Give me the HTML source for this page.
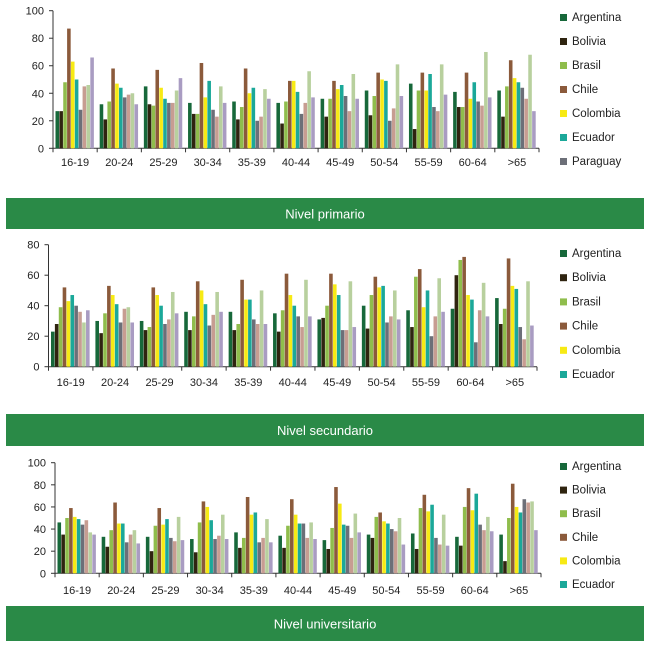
<!DOCTYPE html>
<html><head><meta charset="utf-8"><style>
body{margin:0;background:#fff;width:650px;height:650px;overflow:hidden;font-family:"Liberation Sans",sans-serif}
svg{display:block}
</style></head><body>
<svg id="c" width="650" height="650" xmlns="http://www.w3.org/2000/svg"></svg>
<script>
const categories=["16-19","20-24","25-29","30-34","35-39","40-44","45-49","50-54","55-59","60-64",">65"];
const seriesNames=["Argentina","Bolivia","Brasil","Chile","Colombia","Ecuador","Paraguay","Peru","Uruguay","Venezuela"];
const seriesColors=["#17683a","#2f2410","#8fbd4c","#8b5a3b","#f7ea14","#1ba899","#6c6f78","#c79d92","#b8d09e","#a99cc2"];
// primario: values per series across categories
const primArgentina=[27,32,45,33,34,33,36,42,47,41,42];
const primBolivia=[27,21,32,25,21,18,23,24,14,30,23];
const primBrasil=[48,34,31,25,30,34,36,38,42,30,45];
const primChile=[87,58,57,62,58,49,49,55,55,55,64];
const primColombia=[63,47,44,37,40,49,43,50,42,36,51];
const primEcuador=[50,44,36,49,44,41,46,49,54,48,48];
const primParaguay=[28,37,33,28,20,25,38,20,30,34,44];
const primPeru=[45,39,33,23,23,33,27,29,27,31,36];
const primUruguay=[46,40,42,45,43,56,54,61,61,70,68];
const primVenezuela=[66,32,51,33,36,37,36,38,39,37,27];
// secundario
const secArgentina=[23,30,30,36,36,35,31,40,37,38,45];
const secBolivia=[28,22,24,24,24,23,32,25,26,60,28];
const secBrasil=[39,35,26,33,28,37,40,47,59,70,38];
const secChile=[52,53,52,56,57,61,61,59,64,72,71];
const secColombia=[43,47,47,50,44,47,54,52,39,47,53];
const secEcuador=[47,41,40,41,44,40,47,53,50,44,51];
const secParaguay=[40,29,28,27,31,33,24,29,20,16,26];
const secPeru=[36,38,31,34,28,26,24,33,33,37,18];
const secUruguay=[29,39,49,49,50,57,56,50,58,55,56];
const secVenezuela=[37,29,35,36,28,33,26,31,36,33,27];
// universitario
const uniArgentina=[46,33,33,31,37,34,30,35,36,33,35];
const uniBolivia=[35,24,20,19,23,23,22,32,22,25,11];
const uniBrasil=[50,39,43,46,32,43,41,51,59,60,50];
const uniChile=[59,64,59,65,69,67,78,55,71,77,81];
const uniColombia=[51,45,44,60,53,53,63,47,56,57,60];
const uniEcuador=[49,45,49,48,55,45,44,45,62,72,55];
const uniParaguay=[44,28,32,31,28,45,43,40,32,44,67];
const uniPeru=[48,35,29,34,32,32,32,38,26,39,64];
const uniUruguay=[37,39,51,53,49,46,54,50,53,51,65];
const uniVenezuela=[35,27,30,31,28,31,37,26,25,38,39];
const primTicks=[0,20,40,60,80,100];
const secTicks=[0,20,40,60,80];
const uniTicks=[0,20,40,60,80,100];

const NS="http://www.w3.org/2000/svg";
const svg=document.getElementById('c');
function mk(tag,attrs,parent){const e=document.createElementNS(NS,tag);for(const k in attrs)e.setAttribute(k,attrs[k]);(parent||svg).appendChild(e);return e;}

function panel(cfg){
  const g=mk('g',{});
  
  
  const max=cfg.ticks[cfg.ticks.length-1];
  const yS=v=>cfg.y0-(v/max)*(cfg.y0-cfg.yTop);
  const gw=(cfg.x1-cfg.x0)/categories.length;
  const xS=i=>cfg.x0+i*gw;
  // axes
  const ya=mk('line',{x1:cfg.x0,x2:cfg.x0,y1:cfg.yTop,y2:cfg.y0,stroke:'#333','stroke-width':1},g);
  
  
  cfg.ticks.forEach(t=>{
    const y=yS(t);
    mk('line',{x1:cfg.x0-4,x2:cfg.x0,y1:y,y2:y,stroke:'#333'},g);
    const tx=mk('text',{x:cfg.x0-9,y:y+4,'text-anchor':'end','font-size':11,fill:'#222'},g);
    tx.textContent=t;
    
    
  });
  const xa=mk('line',{x1:cfg.x0,x2:cfg.x1,y1:cfg.y0,y2:cfg.y0,stroke:'#333'},g);
  
  
  categories.forEach((c,i)=>{
    mk('line',{x1:xS(i),x2:xS(i),y1:cfg.y0,y2:cfg.y0+4,stroke:'#333'},g);
    const tx=mk('text',{x:xS(i)+gw/2,y:cfg.labelY,'text-anchor':'middle','font-size':11,fill:'#222'},g);
    tx.textContent=c;
    
    
  });
  mk('line',{x1:cfg.x1,x2:cfg.x1,y1:cfg.y0,y2:cfg.y0+4,stroke:'#333'},g);
  const bw=(gw-5.5)/10;
  cfg.series.forEach((arr,s)=>{
    arr.forEach((v,i)=>{
      const x=xS(i)+2.5+s*bw;
      const r=mk('rect',{x:x,y:yS(v),width:bw-0.3,height:cfg.y0-yS(v),fill:seriesColors[s]},g);
      
      
    });
  });
  // legend
  for(let s=0;s<cfg.legendCount;s++){
    const y=cfg.legendY+s*cfg.legendStep;
    const le=mk('g',{},g);
    
    
    mk('rect',{x:560,y:y-7,width:7,height:7,fill:seriesColors[s]},le);
    const t=mk('text',{x:572,y:y,'font-size':11.5,fill:'#222'},le);
    t.textContent=seriesNames[s];
  }
  // banner
  const b=mk('g',{},svg);
  
  
  mk('rect',{x:6,y:cfg.bannerY,width:638,height:cfg.bannerH,fill:'#2a8a47'},b);
  const bt=mk('text',{x:325,y:cfg.bannerY+cfg.bannerH/2+5,'text-anchor':'middle','font-size':13,fill:'#fff'},b);
  bt.textContent=cfg.title;
}
panel({name:'primario-chart',x0:53,x1:539,y0:148.3,yTop:10.7,ticks:primTicks,labelY:166,
  series:[primArgentina,primBolivia,primBrasil,primChile,primColombia,primEcuador,primParaguay,primPeru,primUruguay,primVenezuela],
  legendCount:7,legendY:21,legendStep:24,bannerName:'banner-nivel-primario',bannerY:198,bannerH:31,title:'Nivel primario'});
panel({name:'secundario-chart',x0:48.5,x1:537,y0:366.7,yTop:244.7,ticks:secTicks,labelY:386,
  series:[secArgentina,secBolivia,secBrasil,secChile,secColombia,secEcuador,secParaguay,secPeru,secUruguay,secVenezuela],
  legendCount:6,legendY:257,legendStep:24.2,bannerName:'banner-nivel-secundario',bannerY:414,bannerH:32,title:'Nivel secundario'});
panel({name:'universitario-chart',x0:55,x1:541,y0:573.3,yTop:462.7,ticks:uniTicks,labelY:594,
  series:[uniArgentina,uniBolivia,uniBrasil,uniChile,uniColombia,uniEcuador,uniParaguay,uniPeru,uniUruguay,uniVenezuela],
  legendCount:6,legendY:470,legendStep:23.6,bannerName:'banner-nivel-universitario',bannerY:606,bannerH:35,title:'Nivel universitario'});
</script>
</body></html>
